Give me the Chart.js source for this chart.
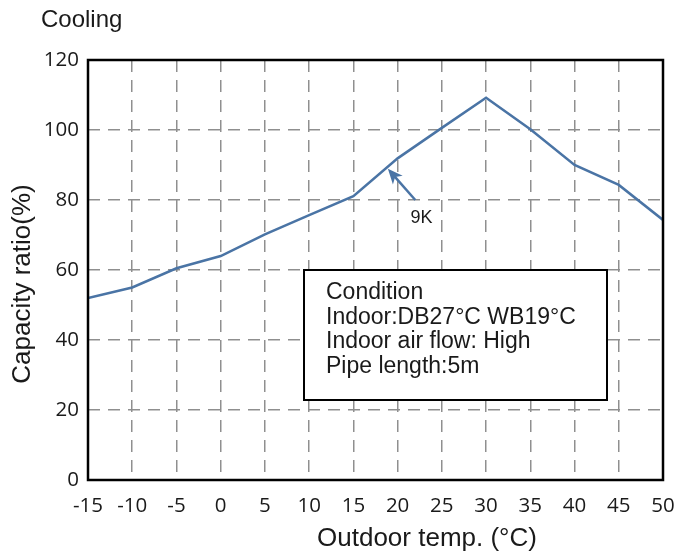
<!DOCTYPE html>
<html>
<head>
<meta charset="utf-8">
<script src="https://cdn.jsdelivr.net/npm/chart.js@4"></script>
<style>
  html, body { margin: 0; padding: 0; background: #fff; }
  #wrap { width: 678px; height: 559px; }
</style>
</head>
<body>
<div id="wrap"><canvas id="chart" width="678" height="559"></canvas></div>
<script>
// --- data ---
const outdoorTemps = [-15, -10, -5, 0, 5, 10, 15, 20, 25, 30, 35, 40, 45, 50];
const capacityRatio = [52, 55, 60.5, 64, 70.2, 75.7, 81.1, 91.9, 100.6, 109.2, 100.2, 90, 84.3, 74.3];
const xTicks = [-15, -10, -5, 0, 5, 10, 15, 20, 25, 30, 35, 40, 45, 50];
const yTicks = [0, 20, 40, 60, 80, 100, 120];
const conditionLines = ['Condition', 'Indoor:DB27°C WB19°C', 'Indoor air flow: High', 'Pipe length:5m'];

const FONT = '"Liberation Sans", Arial, sans-serif';
const TICK_FONT = '"Open Sans", sans-serif';
const LINE_COLOR = '#4a74a5';

// extra drawing: frame, titles, arrow, condition box
const decorPlugin = {
    id: 'decor',
    afterDraw(chart) {
        const { ctx, chartArea: a, scales } = chart;
        ctx.save();

        // frame
        ctx.strokeStyle = '#000';
        ctx.lineWidth = 2.5;
        ctx.strokeRect(a.left, a.top, a.right - a.left, a.bottom - a.top);

        ctx.fillStyle = '#1a1a1a';

        // top-left label
        ctx.font = '24px ' + FONT;
        ctx.textAlign = 'left';
        ctx.textBaseline = 'middle';
        ctx.fillText('Cooling', 41, 20);

        // axis titles
        ctx.font = '26px ' + FONT;
        ctx.textAlign = 'center';
        ctx.fillText('Outdoor temp. (°C)', 427, 539);
        ctx.save();
        ctx.translate(23, 284);
        ctx.rotate(-Math.PI / 2);
        ctx.fillText('Capacity ratio(%)', 0, 0);
        ctx.restore();

        // arrow "9K"
        const x = scales.x, y = scales.y;
        const tipX = x.getPixelForValue(18.9), tipY = y.getPixelForValue(88.9);
        const tailX = x.getPixelForValue(22), tailY = y.getPixelForValue(80);
        const ang = Math.atan2(tipY - tailY, tipX - tailX);
        const c = Math.cos(ang), s = Math.sin(ang);
        ctx.strokeStyle = LINE_COLOR;
        ctx.fillStyle = LINE_COLOR;
        ctx.lineWidth = 2.5;
        ctx.beginPath();
        ctx.moveTo(tailX, tailY);
        ctx.lineTo(tipX - 9 * c, tipY - 9 * s);
        ctx.stroke();
        ctx.beginPath();
        ctx.moveTo(tipX, tipY);
        ctx.lineTo(tipX - 15 * c + 6.5 * s, tipY - 15 * s - 6.5 * c);
        ctx.lineTo(tipX - 11 * c, tipY - 11 * s);
        ctx.lineTo(tipX - 15 * c - 6.5 * s, tipY - 15 * s + 6.5 * c);
        ctx.closePath();
        ctx.fill();

        ctx.fillStyle = '#1a1a1a';
        ctx.font = '18px ' + FONT;
        ctx.textAlign = 'center';
        ctx.fillText('9K', 421.5, 218.5);

        // condition box
        ctx.fillStyle = '#fff';
        ctx.fillRect(304, 270, 303, 130);
        ctx.strokeStyle = '#000';
        ctx.lineWidth = 2;
        ctx.strokeRect(304, 270, 303, 130);
        ctx.fillStyle = '#1a1a1a';
        ctx.font = '23px ' + FONT;
        ctx.textAlign = 'left';
        conditionLines.forEach((t, i) => ctx.fillText(t, 326, 292.5 + i * 24.8));

        ctx.restore();
    }
};

const gridOpts = { color: '#8f8f8f', lineWidth: 1.5, drawTicks: false };
const borderOpts = { display: false, dash: [12, 8] };

new Chart(document.getElementById('chart').getContext('2d'), {
    type: 'line',
    data: {
        datasets: [{
            data: outdoorTemps.map((t, i) => ({ x: t, y: capacityRatio[i] })),
            borderColor: LINE_COLOR,
            borderWidth: 2.5,
            pointRadius: 0,
            tension: 0,
            fill: false
        }]
    },
    options: {
        responsive: false,
        animation: false,
        layout: { padding: { top: 60, right: 15, left: 0, bottom: 0 } },
        plugins: { legend: { display: false }, tooltip: { enabled: false } },
        scales: {
            x: {
                type: 'linear', min: -15, max: 50,
                afterBuildTicks: s => { s.ticks = xTicks.map(v => ({ value: v })); },
                afterFit: s => { s.height = 79; s.paddingLeft = 0; s.paddingRight = 0; },
                grid: gridOpts, border: borderOpts,
                ticks: { color: '#1a1a1a', font: { family: TICK_FONT, size: 20.5 }, padding: 14, maxRotation: 0, autoSkip: false }
            },
            y: {
                type: 'linear', min: 0, max: 120,
                afterBuildTicks: s => { s.ticks = yTicks.map(v => ({ value: v })); },
                afterFit: s => { s.width = 88; s.paddingTop = 0; s.paddingBottom = 0; },
                grid: gridOpts, border: borderOpts,
                ticks: { color: '#1a1a1a', font: { family: TICK_FONT, size: 20.5 }, padding: 9 }
            }
        }
    },
    plugins: [decorPlugin]
});
</script>
</body>
</html>
